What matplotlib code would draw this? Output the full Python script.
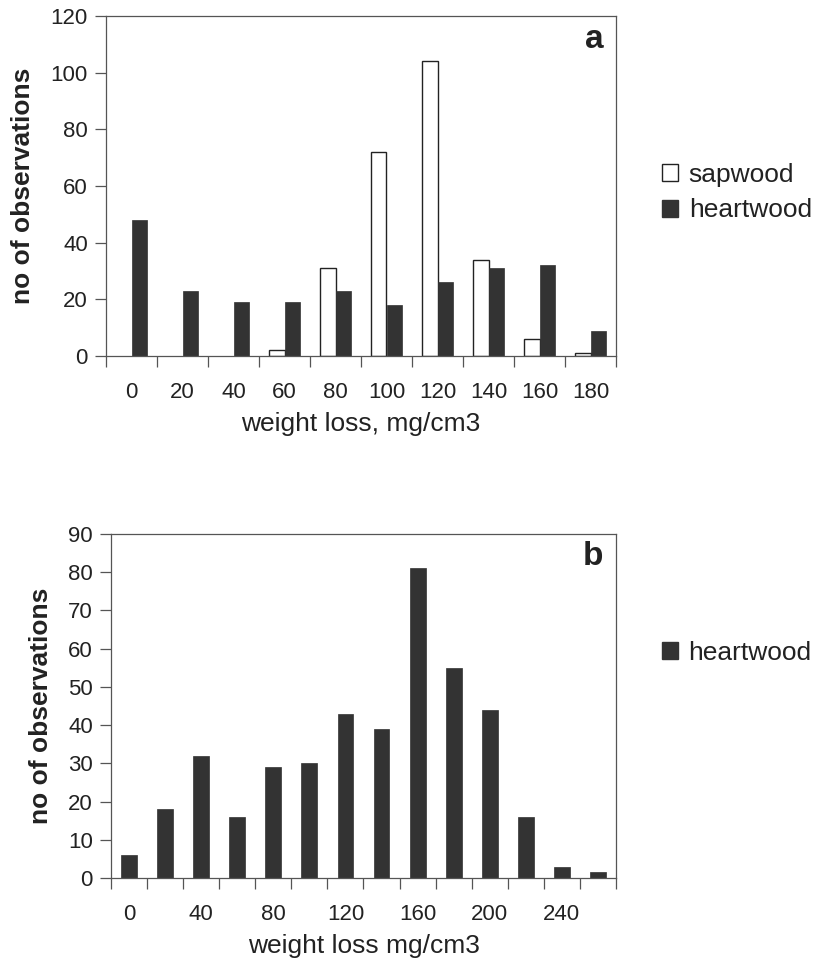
import numpy as np
import matplotlib
matplotlib.use("Agg")
import matplotlib.pyplot as plt
from matplotlib.patches import Patch

plt.rcParams["font.family"] = ["Liberation Sans", "DejaVu Sans"]

# panel a
cats_a = ["0", "20", "40", "60", "80", "100", "120", "140", "160", "180"]
sapwood_a = [0, 0, 0, 2, 31, 72, 104, 34, 6, 1]
heartwood_a = [48, 23, 19, 19, 23, 18, 26, 31, 32, 9]

# panel b
cats_b = ["0", "20", "40", "60", "80", "100", "120", "140", "160", "180",
          "200", "220", "240", "260"]
heartwood_b = [6, 18, 32, 16, 29, 30, 43, 39, 81, 55, 44, 16, 3, 1.5]

dark = "#333333"
edge = "#555555"
tick_fs = 16
lab_fs = 19

fig = plt.figure(figsize=(8.18, 9.68), dpi=100)


def style_axes(ax, n):
    for s in ax.spines.values():
        s.set_color(edge)
        s.set_linewidth(0.9)
    ax.set_xlim(-0.5, n - 0.5)
    ax.set_xticks(np.arange(-0.5, n, 1.0), minor=True)
    ax.tick_params(axis="x", which="minor", length=8, width=0.9, color=edge)
    ax.tick_params(axis="x", which="major", length=0, pad=19, labelsize=tick_fs,
                   labelcolor="#222222")
    ax.tick_params(axis="y", length=8, width=0.9, color=edge, pad=5, labelsize=tick_fs,
                   labelcolor="#222222")


# --- a ---
ax1 = fig.add_axes([106 / 818, 1 - 356 / 968, 510 / 818, 340 / 968])
x = np.arange(len(cats_a))
w = 0.31
sap_lw = [1.0 if v > 0 else 0 for v in sapwood_a]
ax1.bar(x - w / 2, sapwood_a, w, color="white", edgecolor="#222222", linewidth=sap_lw, label="sapwood")
ax1.bar(x + w / 2, heartwood_a, w, color=dark, edgecolor=dark, linewidth=0.5, label="heartwood")
style_axes(ax1, len(cats_a))
ax1.set_xticks(x)
ax1.set_xticklabels(cats_a)
ax1.set_ylim(0, 120)
ax1.set_yticks(range(0, 121, 20))
ax1.set_xlabel("weight loss, mg/cm3", fontsize=lab_fs, labelpad=6, color="#222222")
ax1.set_ylabel("no of observations", fontsize=lab_fs, fontweight="bold", color="#222222")
ax1.yaxis.set_label_coords(-0.139, 0.5)
ax1.text(0.975, 0.975, "a", transform=ax1.transAxes, ha="right", va="top",
         fontsize=24, fontweight="bold", color="#222222")
ax1.legend(handles=[Patch(facecolor="white", edgecolor="#222222", label="sapwood"),
                    Patch(facecolor=dark, edgecolor=dark, label="heartwood")],
           loc="upper left", bbox_to_anchor=(1.07, 0.6), frameon=False,
           fontsize=lab_fs, handlelength=0.6, handleheight=0.6, handletextpad=0.4,
           labelspacing=0.45, borderaxespad=0, labelcolor="#222222")

# --- b ---
ax2 = fig.add_axes([111 / 818, 1 - 878 / 968, 505 / 818, 344 / 968])
xb = np.arange(len(cats_b))
ax2.bar(xb, heartwood_b, 0.44, color=dark, edgecolor=dark, linewidth=0.5, label="heartwood")
style_axes(ax2, len(cats_b))
ax2.set_xticks(xb[::2])
ax2.set_xticklabels(cats_b[::2])
ax2.set_ylim(0, 90)
ax2.set_yticks(range(0, 91, 10))
ax2.set_xlabel("weight loss mg/cm3", fontsize=lab_fs, labelpad=6, color="#222222")
ax2.set_ylabel("no of observations", fontsize=lab_fs, fontweight="bold", color="#222222")
ax2.yaxis.set_label_coords(-0.115, 0.5)
ax2.text(0.975, 0.98, "b", transform=ax2.transAxes, ha="right", va="top",
         fontsize=24, fontweight="bold", color="#222222")
ax2.legend(handles=[Patch(facecolor=dark, edgecolor=dark, label="heartwood")],
           loc="upper left", bbox_to_anchor=(1.07, 0.72), frameon=False,
           fontsize=lab_fs, handlelength=0.6, handleheight=0.6, handletextpad=0.4,
           borderaxespad=0, labelcolor="#222222")

fig.savefig("out.png", dpi=100)
